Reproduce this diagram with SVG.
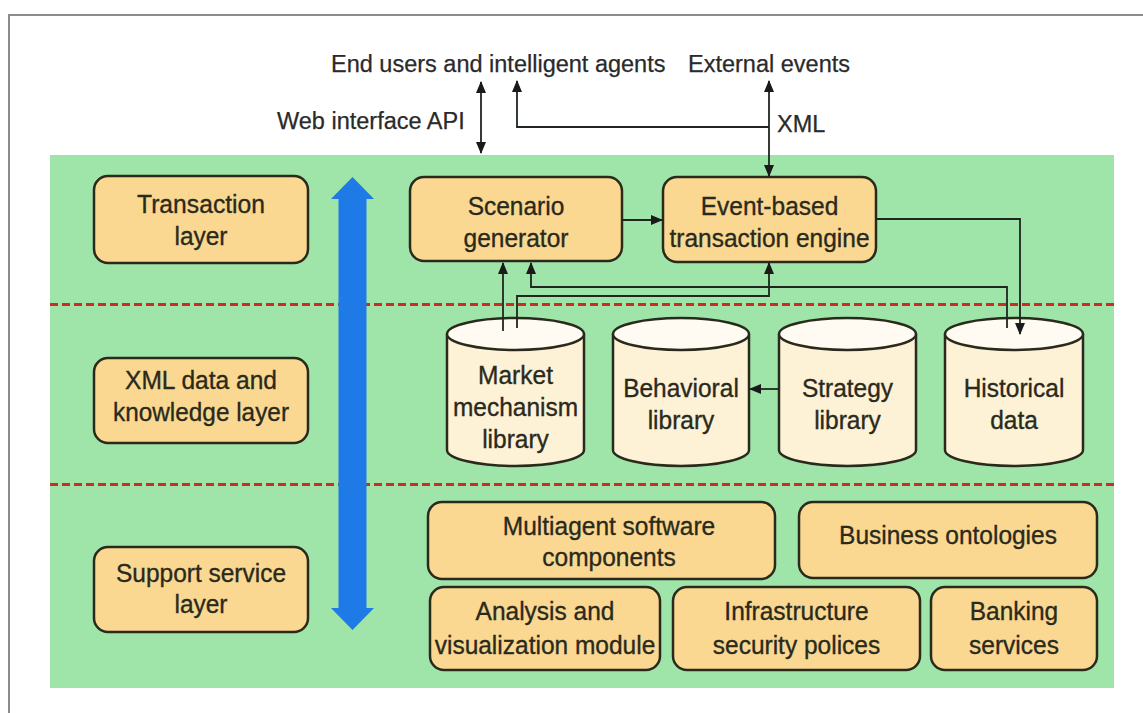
<svg xmlns="http://www.w3.org/2000/svg" width="1143" height="713" viewBox="0 0 1143 713">
<style>
.frame{stroke:#8c8c8c;stroke-width:2;fill:none}
.bg{fill:#9fe4a9}
.sep{stroke:#d1282a;stroke-width:3;stroke-dasharray:8 4;fill:none}
.box{fill:#fad892;stroke:#2a2a1c;stroke-width:2.5}
.cylb{fill:#fdf1d6;stroke:#2a2a1c;stroke-width:2.5}
.cylt{fill:#fffbf2;stroke:#2a2a1c;stroke-width:2.5}
.t{font-family:"Liberation Sans",Arial,sans-serif;font-size:26px;fill:#2a2a1c;stroke:#2a2a1c;stroke-width:0.35;text-anchor:middle}
.lbl{font-family:"Liberation Sans",Arial,sans-serif;font-size:23.5px;fill:#2a2a2a;stroke:#2a2a2a;stroke-width:0.25}
.c{stroke:#1e261e;stroke-width:1.8;fill:none}
.blue{fill:#1e7ae6}
</style>
<defs>
<marker id="ah" markerUnits="userSpaceOnUse" markerWidth="12" markerHeight="10" refX="11" refY="5" orient="auto-start-reverse">
<path d="M0,0 L12,5 L0,10 Z" fill="#1a1a1a"/>
</marker>
</defs>
<path class="frame" d="M9,713 L9,15 L1143,15"/>
<rect class="bg" x="50" y="155" width="1064" height="533"/>
<line class="sep" x1="50" y1="304.5" x2="1114" y2="304.5"/>
<line class="sep" x1="50" y1="484.5" x2="1114" y2="484.5"/>

<g id="blue-arrow">
<path class="blue" d="M352.5,177 L374,199 L366.5,199 L366.5,608 L374,608 L352.5,630 L331,608 L338.5,608 L338.5,199 L331,199 Z"/>
</g>

<g id="labels">
<text class="lbl" x="331" y="72">End users and intelligent agents</text>
<text class="lbl" x="688" y="72">External events</text>
<text class="lbl" x="277" y="129">Web interface API</text>
<text class="lbl" x="777" y="132">XML</text>
</g>

<g id="transaction-layer">
<rect class="box" x="94" y="176" width="214" height="87" rx="14"/>
<text class="t" x="201" y="213" textLength="128" lengthAdjust="spacingAndGlyphs">Transaction</text>
<text class="t" x="201" y="245" textLength="53" lengthAdjust="spacingAndGlyphs">layer</text>
</g>
<g id="xml-layer">
<rect class="box" x="94" y="358" width="214" height="85" rx="14"/>
<text class="t" x="201" y="389" textLength="152" lengthAdjust="spacingAndGlyphs">XML data and</text>
<text class="t" x="201" y="421" textLength="176" lengthAdjust="spacingAndGlyphs">knowledge layer</text>
</g>
<g id="support-layer">
<rect class="box" x="94" y="547" width="214" height="85" rx="14"/>
<text class="t" x="201" y="582" textLength="170" lengthAdjust="spacingAndGlyphs">Support service</text>
<text class="t" x="201" y="613" textLength="53" lengthAdjust="spacingAndGlyphs">layer</text>
</g>

<g id="scenario-generator">
<rect class="box" x="410" y="177" width="212" height="84" rx="14"/>
<text class="t" x="516" y="215" textLength="96.7" lengthAdjust="spacingAndGlyphs">Scenario</text>
<text class="t" x="516" y="247" textLength="104.9" lengthAdjust="spacingAndGlyphs">generator</text>
</g>
<g id="transaction-engine">
<rect class="box" x="663" y="177" width="213" height="85" rx="14"/>
<text class="t" x="769.5" y="215" textLength="137.5" lengthAdjust="spacingAndGlyphs">Event-based</text>
<text class="t" x="769.5" y="247" textLength="200" lengthAdjust="spacingAndGlyphs">transaction engine</text>
</g>

<g id="market-mechanism-library">
<path class="cylb" d="M447,334 L447,450 A68.5,16 0 0 0 584,450 L584,334"/>
<ellipse class="cylt" cx="515.5" cy="334" rx="68.5" ry="16"/>
<text class="t" x="515.5" y="384" textLength="74.9" lengthAdjust="spacingAndGlyphs">Market</text>
<text class="t" x="515.5" y="416" textLength="125.2" lengthAdjust="spacingAndGlyphs">mechanism</text>
<text class="t" x="515.5" y="448" textLength="66.7" lengthAdjust="spacingAndGlyphs">library</text>
</g>
<g id="behavioral-library">
<path class="cylb" d="M613,334 L613,450 A68,16 0 0 0 749,450 L749,334"/>
<ellipse class="cylt" cx="681" cy="334" rx="68" ry="16"/>
<text class="t" x="681" y="397" textLength="115.7" lengthAdjust="spacingAndGlyphs">Behavioral</text>
<text class="t" x="681" y="429" textLength="66.7" lengthAdjust="spacingAndGlyphs">library</text>
</g>
<g id="strategy-library">
<path class="cylb" d="M779,334 L779,450 A68.5,16 0 0 0 916,450 L916,334"/>
<ellipse class="cylt" cx="847.5" cy="334" rx="68.5" ry="16"/>
<text class="t" x="847.5" y="397" textLength="91.2" lengthAdjust="spacingAndGlyphs">Strategy</text>
<text class="t" x="847.5" y="429" textLength="66.7" lengthAdjust="spacingAndGlyphs">library</text>
</g>
<g id="historical-data">
<path class="cylb" d="M945,334 L945,450 A69,16 0 0 0 1083,450 L1083,334"/>
<ellipse class="cylt" cx="1014" cy="334" rx="69" ry="16"/>
<text class="t" x="1014" y="397" textLength="100.7" lengthAdjust="spacingAndGlyphs">Historical</text>
<text class="t" x="1014" y="429" textLength="47.7" lengthAdjust="spacingAndGlyphs">data</text>
</g>

<g id="multiagent-components">
<rect class="box" x="428" y="502" width="347" height="77" rx="14"/>
<text class="t" x="609" y="535" textLength="212.4" lengthAdjust="spacingAndGlyphs">Multiagent software</text>
<text class="t" x="609" y="566" textLength="133.5" lengthAdjust="spacingAndGlyphs">components</text>
</g>
<g id="business-ontologies">
<rect class="box" x="799" y="502" width="298" height="76" rx="14"/>
<text class="t" x="948" y="544" textLength="217.9" lengthAdjust="spacingAndGlyphs">Business ontologies</text>
</g>
<g id="analysis-visualization">
<rect class="box" x="430" y="587" width="230" height="83" rx="14"/>
<text class="t" x="545" y="620" textLength="138.9" lengthAdjust="spacingAndGlyphs">Analysis and</text>
<text class="t" x="545" y="654" textLength="220.6" lengthAdjust="spacingAndGlyphs">visualization module</text>
</g>
<g id="infrastructure-security">
<rect class="box" x="673" y="587" width="247" height="83" rx="14"/>
<text class="t" x="796.5" y="620" textLength="144.3" lengthAdjust="spacingAndGlyphs">Infrastructure</text>
<text class="t" x="796.5" y="654" textLength="167.5" lengthAdjust="spacingAndGlyphs">security polices</text>
</g>
<g id="banking-services">
<rect class="box" x="931" y="587" width="166" height="83" rx="14"/>
<text class="t" x="1014" y="620" textLength="88.5" lengthAdjust="spacingAndGlyphs">Banking</text>
<text class="t" x="1014" y="654" textLength="89.8" lengthAdjust="spacingAndGlyphs">services</text>
</g>

<g id="connectors">
<line class="c" x1="481" y1="82" x2="481" y2="153" marker-start="url(#ah)" marker-end="url(#ah)"/>
<polyline class="c" points="769,127 517,127 517,81" marker-end="url(#ah)"/>
<line class="c" x1="769" y1="81" x2="769" y2="176" marker-start="url(#ah)" marker-end="url(#ah)"/>
<line class="c" x1="622" y1="220" x2="662" y2="220" marker-end="url(#ah)"/>
<polyline class="c" points="876,219 1020,219 1020,334" marker-end="url(#ah)"/>
<line class="c" x1="503" y1="331" x2="503" y2="263" marker-end="url(#ah)"/>
<polyline class="c" points="517,328 517,296 769,296 769,263" marker-end="url(#ah)"/>
<polyline class="c" points="1007,328 1007,287 531,287 531,263" marker-end="url(#ah)"/>
<line class="c" x1="779" y1="389" x2="750" y2="389" marker-end="url(#ah)"/>
</g>
</svg>
